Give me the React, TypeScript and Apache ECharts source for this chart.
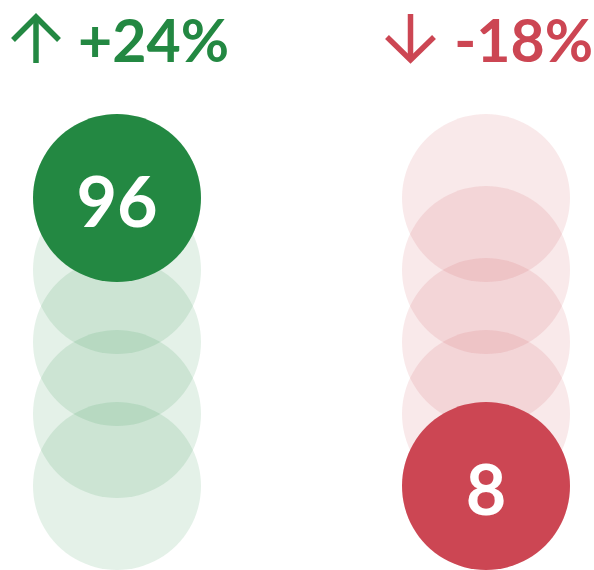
import React, { useEffect, useRef } from "react";
import * as echarts from "echarts";

const columns = ["up", "down"];
const values = [96, 8];
const changes = ["+24%", "-18%"];
const colors = ["#238842", "#CC4653"];
const levels = [10, 30, 50, 70, 90];
const binSize = 20;

export default function App() {
  const ref = useRef<HTMLDivElement>(null);
  useEffect(() => {
    if (!ref.current) return;
    const chart = echarts.init(ref.current, undefined, { renderer: "svg" });
    const series: any[] = [];
    columns.forEach((c, i) => {
      series.push({
        type: "scatter",
        name: c + "-bg",
        symbol: "circle",
        symbolSize: 168,
        silent: true,
        clip: false,
        itemStyle: { color: colors[i], opacity: 0.12 },
        data: levels.map((l) => [i, l]),
      });
    });
    columns.forEach((c, i) => {
      const bin = Math.min(levels.length - 1, Math.floor(values[i] / binSize));
      series.push({
        type: "scatter",
        name: c,
        symbol: "circle",
        symbolSize: 168,
        clip: false,
        itemStyle: { color: colors[i], opacity: 1 },
        label: {
          show: true,
          position: "inside",
          offset: [0, 2],
          formatter: () => String(values[i]),
          color: "#ffffff",
          fontFamily: "Lato",
          fontWeight: "bold",
          fontSize: 70,
        },
        data: [[i, levels[bin]]],
      });
    });
    const arrowStyle = (c: string) => ({ stroke: c, lineWidth: 5.5, fill: "none", lineJoin: "miter" });
    chart.setOption({
      animation: false,
      grid: { left: 117, right: 108, top: 162, bottom: 48 },
      xAxis: { type: "value", min: 0, max: 1, show: false },
      yAxis: { type: "value", min: 0, max: 100, show: false },
      graphic: [
        {
          type: "polyline",
          shape: { points: [[36, 17], [36, 63]] },
          style: arrowStyle(colors[0]),
        },
        {
          type: "polyline",
          shape: { points: [[13, 40], [36, 17], [59, 40]] },
          style: arrowStyle(colors[0]),
        },
        {
          type: "text",
          x: 78,
          y: 39,
          style: {
            text: changes[0],
            fill: colors[0],
            font: "bold 59px Lato",
            align: "left",
            verticalAlign: "middle",
          },
        },
        {
          type: "polyline",
          shape: { points: [[410.5, 14], [410.5, 60]] },
          style: arrowStyle(colors[1]),
        },
        {
          type: "polyline",
          shape: { points: [[387, 37], [410.5, 60], [434, 37]] },
          style: arrowStyle(colors[1]),
        },
        {
          type: "text",
          x: 593,
          y: 39,
          style: {
            text: changes[1],
            fill: colors[1],
            font: "bold 59px Lato",
            align: "right",
            verticalAlign: "middle",
          },
        },
      ],
      series,
    });
    return () => chart.dispose();
  }, []);
  return <div ref={ref} style={{ width: 594, height: 570, position: "absolute", left: 0, top: 0 }} />;
}
